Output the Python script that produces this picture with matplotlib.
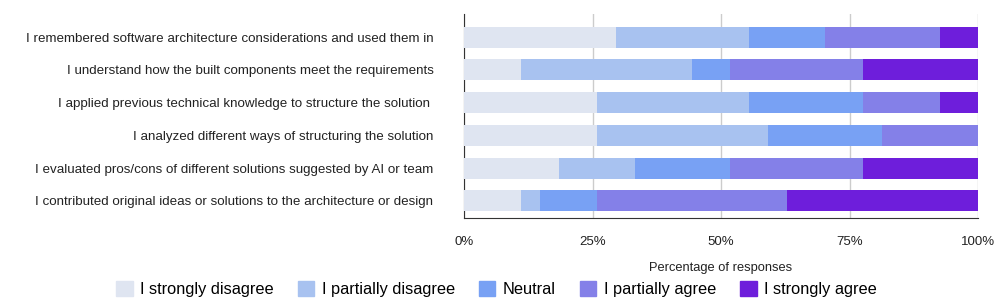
import matplotlib.pyplot as plt
from matplotlib.patches import Patch

plt.rcParams['font.family'] = ['Liberation Sans', 'DejaVu Sans']

# statements, top to bottom
statements = [
    'I remembered software architecture considerations and used them in',
    'I understand how the built components meet the requirements',
    'I applied previous technical knowledge to structure the solution ',
    'I analyzed different ways of structuring the solution',
    'I evaluated pros/cons of different solutions suggested by AI or team',
    'I contributed original ideas or solutions to the architecture or design',
]
levels = ['I strongly disagree', 'I partially disagree', 'Neutral',
          'I partially agree', 'I strongly agree']
colors = ['#dfe5f1', '#a8c2f0', '#78a1f4', '#8480e8', '#6e1edb']

# percentage of responses per level (one value per statement)
strongly_disagree = [29.6, 11.1, 25.9, 25.9, 18.5, 11.1]
partially_disagree = [25.9, 33.3, 29.6, 33.3, 14.8, 3.7]
neutral = [14.8, 7.4, 22.2, 22.2, 18.5, 11.1]
partially_agree = [22.2, 25.9, 14.8, 18.5, 25.9, 37.0]
strongly_agree = [7.4, 22.2, 7.4, 0.0, 22.2, 37.0]
series = [strongly_disagree, partially_disagree, neutral, partially_agree, strongly_agree]

fig = plt.figure(figsize=(9.97, 3.07), dpi=100)
ax = fig.add_axes([0.4654, 0.29, 0.5156, 0.664])

ypos = list(range(len(statements)))
left = [0.0] * len(statements)
for vals, col, lab in zip(series, colors, levels):
    ax.barh(ypos, vals, left=left, height=0.64, color=col, label=lab, zorder=3)
    left = [a + b for a, b in zip(left, vals)]

ax.set_xlim(0, 100)
ax.set_ylim(5.52, -0.70)
ax.set_yticks(ypos)
ax.set_yticklabels(statements, fontsize=9.6, color='#222222')
ax.set_xticks([0, 25, 50, 75, 100])
ax.set_xticklabels(['0%', '25%', '50%', '75%', '100%'], fontsize=9.5, color='#222222')
ax.tick_params(axis='y', length=0, pad=22)
ax.tick_params(axis='x', length=0, pad=13)
ax.set_xlabel('Percentage of responses', fontsize=9.3, color='#222222', labelpad=10)

ax.grid(axis='x', color='#cccccc', linewidth=1, zorder=0)
for s in ['top', 'right']:
    ax.spines[s].set_visible(False)
ax.spines['left'].set_color('#333333')
ax.spines['bottom'].set_color('#333333')

handles = [Patch(color=c, label=l) for c, l in zip(colors, levels)]
fig.legend(handles=handles, loc='center', bbox_to_anchor=(0.498, 0.058), ncol=5,
           frameon=False, fontsize=11.8, handlelength=1.0, handleheight=1.0,
           columnspacing=1.48, handletextpad=0.45)

fig.savefig('out.png', dpi=100)
